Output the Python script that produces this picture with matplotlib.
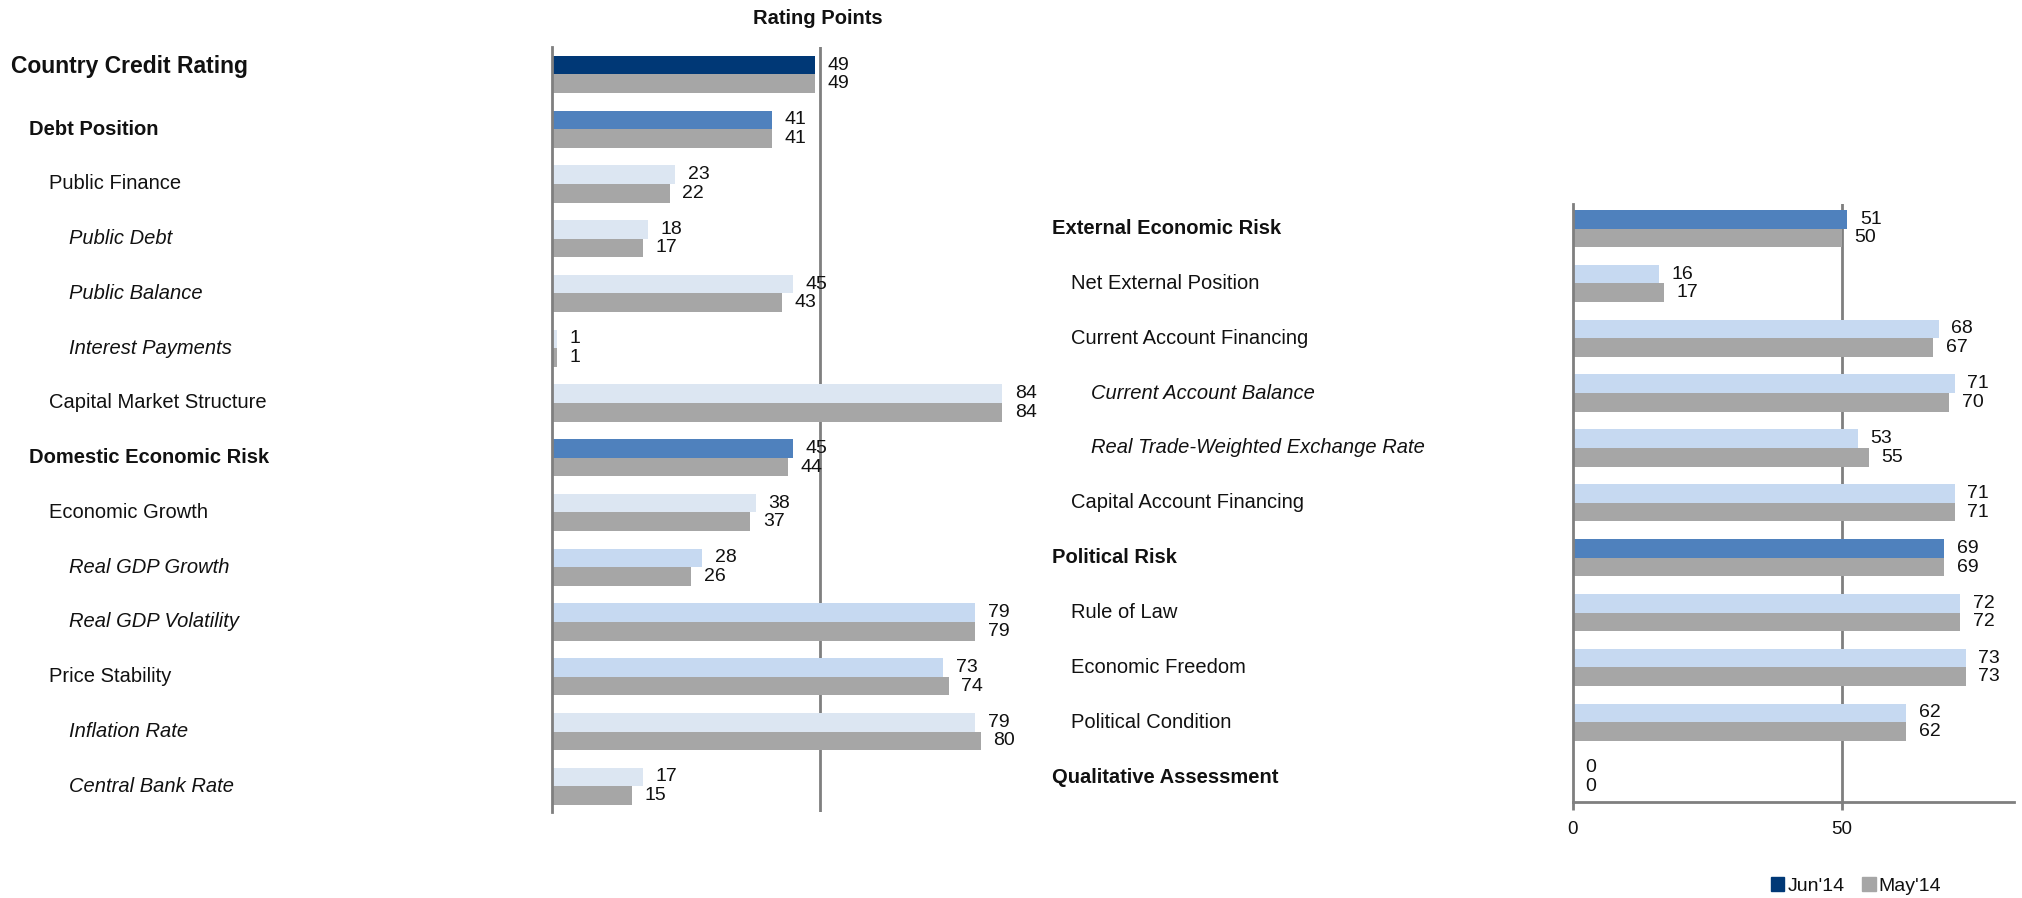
import matplotlib.pyplot as plt
from matplotlib import transforms
from matplotlib.patches import Patch
import numpy as np

plt.rcParams['font.family'] = ['Liberation Sans', 'DejaVu Sans']

# Left block of rating components
left_labels = ['Country Credit Rating', 'Debt Position', 'Public Finance', 'Public Debt',
               'Public Balance', 'Interest Payments', 'Capital Market Structure',
               'Domestic Economic Risk', 'Economic Growth', 'Real GDP Growth',
               'Real GDP Volatility', 'Price Stability', 'Inflation Rate', 'Central Bank Rate']
left_levels = [0, 1, 2, 3, 3, 3, 2, 1, 2, 3, 3, 2, 3, 3]
left_jun = [49, 41, 23, 18, 45, 1, 84, 45, 38, 28, 79, 73, 79, 17]
left_may = [49, 41, 22, 17, 43, 1, 84, 44, 37, 26, 79, 74, 80, 15]

# Right block of rating components
right_labels = ['External Economic Risk', 'Net External Position', 'Current Account Financing',
                'Current Account Balance', 'Real Trade-Weighted Exchange Rate',
                'Capital Account Financing', 'Political Risk', 'Rule of Law',
                'Economic Freedom', 'Political Condition', 'Qualitative Assessment']
right_levels = [1, 2, 2, 3, 3, 2, 1, 2, 2, 2, 1]
right_jun = [51, 16, 68, 71, 53, 71, 69, 72, 73, 62, 0]
right_may = [50, 17, 67, 70, 55, 71, 69, 72, 73, 62, 0]

NAVY = '#003876'
MAIN = '#4f81bd'
PALE = '#dce6f2'
SOFT = '#c6d9f1'
GRAY = '#a6a6a6'
LINE = '#7f7f7f'
TEXT = '#111111'

left_colors = [NAVY, MAIN, PALE, PALE, PALE, PALE, PALE,
               MAIN, PALE, SOFT, SOFT, SOFT, PALE, PALE]
right_colors = [MAIN, SOFT, SOFT, SOFT, SOFT, SOFT, MAIN, SOFT, SOFT, SOFT, SOFT]

W, H = 2022, 898
fig = plt.figure(figsize=(W / 100, H / 100), dpi=100)

# axes placed in pixel units
ax_l = fig.add_axes([552 / W, 1 - 812 / H, 482.4 / W, 765 / H])
ax_r = fig.add_axes([1573 / W, 1 - 802 / H, 441 / W, 598 / H])

bar_h = 0.34


def draw_panel(ax, fig, labels, levels, jun, may, colors, indents, ylim, xmax):
    y = np.arange(len(labels))
    ax.barh(y - bar_h / 2, jun, height=bar_h, color=colors, zorder=2)
    ax.barh(y + bar_h / 2, may, height=bar_h, color=GRAY, zorder=2)
    for yy, v in zip(y, jun):
        ax.annotate(str(v), (v, yy - bar_h / 2), xytext=(9, 0), textcoords='offset points',
                    va='center', ha='left', fontsize=14, color=TEXT)
    for yy, v in zip(y, may):
        ax.annotate(str(v), (v, yy + bar_h / 2), xytext=(9, 0), textcoords='offset points',
                    va='center', ha='left', fontsize=14, color=TEXT)
    ax.axvline(50, color=LINE, lw=2, zorder=1)
    ax.set_xlim(0, xmax)
    ax.set_ylim(*ylim)

    # row labels, indented by hierarchy level
    trans = transforms.blended_transform_factory(fig.transFigure, ax.transData)
    for yy, lab, lev in zip(y, labels, levels):
        size = 16.5 if lev == 0 else 14.5
        weight = 'bold' if lev <= 1 else 'normal'
        style = 'italic' if lev == 3 else 'normal'
        off = -0.15 if lev == 0 else 0
        ax.text(indents[lev] / W, yy + off, lab, transform=trans, fontsize=size,
                fontweight=weight, fontstyle=style, va='center', ha='left',
                color=TEXT, clip_on=False)

    for s in ax.spines.values():
        s.set_visible(False)
    ax.spines['left'].set_visible(True)
    ax.spines['left'].set_color(LINE)
    ax.spines['left'].set_linewidth(2)
    ax.set_yticks([])


draw_panel(ax_l, fig, left_labels, left_levels, left_jun, left_may, left_colors,
           {0: 11, 1: 29, 2: 49, 3: 69}, (13.47, -0.5), 90)
ax_l.set_xticks([])

draw_panel(ax_r, fig, right_labels, right_levels, right_jun, right_may, right_colors,
           {1: 1052, 2: 1071, 3: 1091}, (10.453, -0.447), 82)
ax_r.spines['bottom'].set_visible(True)
ax_r.spines['bottom'].set_color(LINE)
ax_r.spines['bottom'].set_linewidth(2)
ax_r.set_xticks([0, 50])
ax_r.tick_params(axis='x', length=6, width=2, color=LINE, pad=8, labelsize=13.5,
                 labelcolor=TEXT)

fig.text(818 / W, 1 - 19 / H, 'Rating Points', ha='center', va='center',
         fontsize=14.5, fontweight='bold', color=TEXT)

handles = [Patch(color=NAVY, label="Jun'14"), Patch(color=GRAY, label="May'14")]
fig.legend(handles=handles, loc='center', bbox_to_anchor=(1856 / W, 1 - 886 / H), ncol=2,
           frameon=False, handlelength=0.7, handleheight=0.7, handletextpad=0.15,
           columnspacing=0.9, fontsize=14, borderpad=0, labelcolor=TEXT)

fig.savefig('out.png', dpi=100)
